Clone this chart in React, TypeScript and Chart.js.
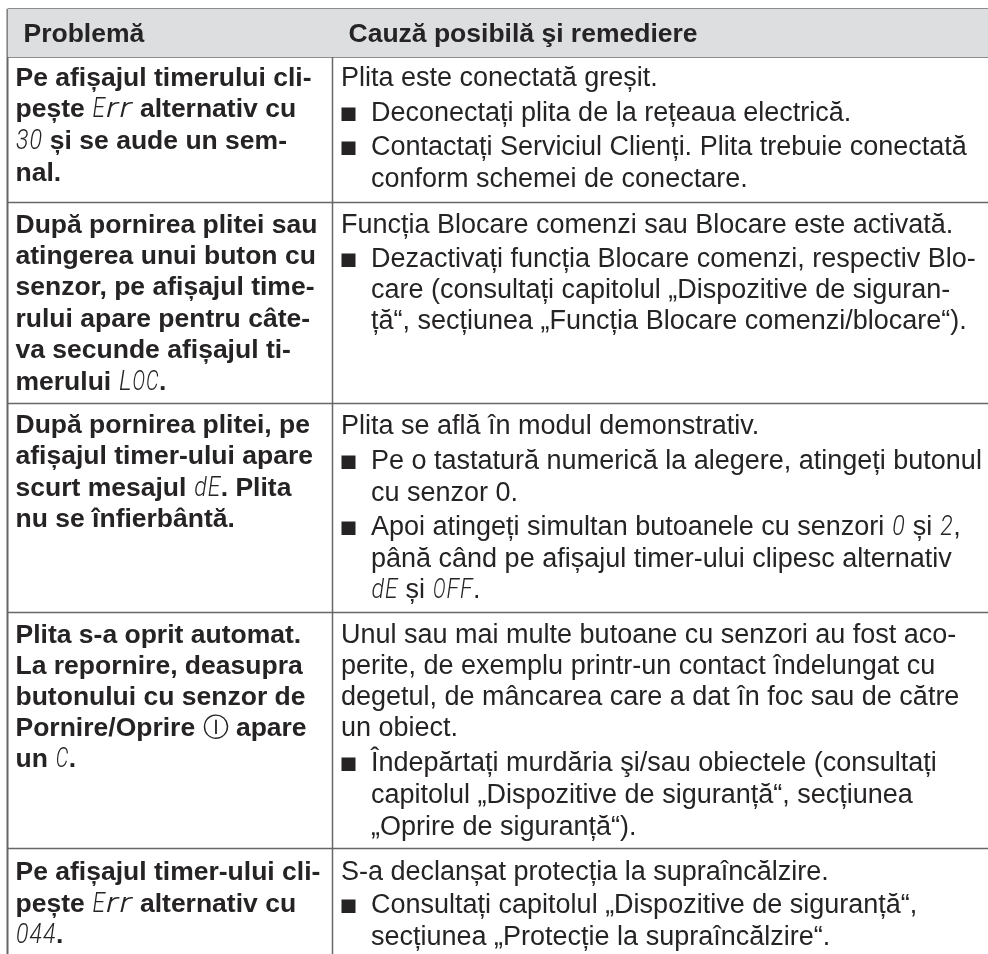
import React, { useEffect, useRef } from "react";
import { Chart, registerables } from "chart.js";

Chart.register(...registerables);

const headers = ["Problemă", "Cauză posibilă şi remediere"];

// {..} marks text shown on the hob's segment display; "• " marks a bullet item.
const problems = [
  ["Pe afișajul timerului cli-", "pește {Err} alternativ cu", "{30} și se aude un sem-", "nal."],
  ["După pornirea plitei sau", "atingerea unui buton cu", "senzor, pe afișajul time-", "rului apare pentru câte-", "va secunde afișajul ti-", "merului {LOC}."],
  ["După pornirea plitei, pe", "afișajul timer-ului apare", "scurt mesajul {dE}. Plita", "nu se înfierbântă."],
  ["Plita s-a oprit automat.", "La repornire, deasupra", "butonului cu senzor de", "Pornire/Oprire Ⓘ apare", "un {C}."],
  ["Pe afișajul timer-ului cli-", "pește {Err} alternativ cu", "{044}."],
];

const remedies = [
  ["Plita este conectată greșit.", "• Deconectați plita de la rețeaua electrică.", "• Contactați Serviciul Clienți. Plita trebuie conectată", "conform schemei de conectare."],
  ["Funcția Blocare comenzi sau Blocare este activată.", "• Dezactivați funcția Blocare comenzi, respectiv Blo-", "care (consultați capitolul „Dispozitive de siguran-", "ță“, secțiunea „Funcția Blocare comenzi/blocare“)."],
  ["Plita se află în modul demonstrativ.", "• Pe o tastatură numerică la alegere, atingeți butonul", "cu senzor 0.", "• Apoi atingeți simultan butoanele cu senzori {0} și {2},", "până când pe afișajul timer-ului clipesc alternativ", "{dE} și {OFF}."],
  ["Unul sau mai multe butoane cu senzori au fost aco-", "perite, de exemplu printr-un contact îndelungat cu", "degetul, de mâncarea care a dat în foc sau de către", "un obiect.", "• Îndepărtați murdăria şi/sau obiectele (consultați", "capitolul „Dispozitive de siguranță“, secțiunea", "„Oprire de siguranță“)."],
  ["S-a declanșat protecția la supraîncălzire.", "• Consultați capitolul „Dispozitive de siguranță“,", "secțiunea „Protecție la supraîncălzire“."],
];

const W = 988;
const H = 954;
const LEFT = 7.5;
const MID = 332.5;
const TOP = 9;
const HEAD_BOTTOM = 57;
const ROW_BOTTOMS = [202.5, 403.5, 612.5, 848.5];

const LEFT_BASE = [
  [86, 117, 149, 181],
  [233, 264, 295, 327, 358, 390],
  [433, 464, 496, 527],
  [643, 674, 705, 736, 767],
  [880, 912, 943],
];
const RIGHT_BASE = [
  [86, 121, 155, 187],
  [233, 267, 298, 329],
  [434, 469, 501, 535, 567, 598],
  [643, 674, 705, 736, 771, 803, 835],
  [880, 913, 945],
];

const FONT = '"Liberation Sans", Arial, sans-serif';
const INK = "#262324";
const BOLD = 26.5;
const REG = 27;
const SEG_ADVANCE = 13.5;
const SEG_GLYPH = 12.5;

function drawRuns(ctx: CanvasRenderingContext2D, text: string, x: number, y: number, weight: string, size: number) {
  const parts = text.split(/(\{[^}]*\}|Ⓘ)/).filter(Boolean);
  let cx = x;
  for (const p of parts) {
    if (p.startsWith("{")) {
      ctx.font = `italic 300 27px Roboto, ${FONT}`;
      for (const ch of p.slice(1, -1)) {
        const w = ctx.measureText(ch).width;
        const k = Math.min(SEG_GLYPH / w, 1.7);
        ctx.save();
        ctx.translate(cx + (SEG_ADVANCE - w * k) / 2, y);
        ctx.scale(k, 1);
        ctx.fillText(ch, 0, 0);
        ctx.restore();
        cx += SEG_ADVANCE;
      }
    } else if (p === "Ⓘ") {
      ctx.font = `normal 26px "DejaVu Sans"`;
      ctx.fillText(p, cx, y);
      cx += ctx.measureText(p).width;
    } else {
      ctx.font = `${weight} ${size}px ${FONT}`;
      ctx.fillText(p, cx, y);
      cx += ctx.measureText(p).width;
    }
  }
}

const tablePlugin = {
  id: "tableText",
  afterDatasetsDraw(chart: any) {
    const { ctx, scales } = chart;
    const px = (v: number) => scales.x.getPixelForValue(v);
    const py = (v: number) => scales.y.getPixelForValue(v);
    ctx.save();
    ctx.fillStyle = INK;
    ctx.textBaseline = "alphabetic";
    ctx.textAlign = "left";
    drawRuns(ctx, headers[0], px(23.5), py(42), "bold", BOLD);
    drawRuns(ctx, headers[1], px(348.5), py(42), "bold", BOLD);
    problems.forEach((row, r) =>
      row.forEach((line, i) => drawRuns(ctx, line, px(15.5), py(LEFT_BASE[r][i]), "bold", BOLD))
    );
    remedies.forEach((row, r) => {
      let indented = false;
      row.forEach((line, i) => {
        const base = py(RIGHT_BASE[r][i]);
        if (line.startsWith("• ")) {
          indented = true;
          ctx.fillRect(px(341.5), base - 13.5, 14, 13.5);
          drawRuns(ctx, line.slice(2), px(371), base, "normal", REG);
        } else {
          drawRuns(ctx, line, px(indented ? 371 : 341), base, "normal", REG);
        }
      });
    });
    ctx.restore();
  },
};

export default function App() {
  const ref = useRef<HTMLCanvasElement>(null);
  useEffect(() => {
    const rule = (pts: number[][], width = 1.5) => ({
      data: pts.map(([x, y]) => ({ x, y })),
      borderColor: "#666766",
      borderWidth: width,
      pointRadius: 0,
      fill: false,
      clip: false as const,
    });
    const chart = new Chart(ref.current!, {
      type: "line",
      data: {
        datasets: [
          {
            data: [{ x: LEFT, y: TOP }, { x: W, y: TOP }],
            borderWidth: 0,
            pointRadius: 0,
            backgroundColor: "#dcdee0",
            fill: { value: HEAD_BOTTOM },
          },
          rule([[LEFT, TOP], [W, TOP]]),
          rule([[LEFT, HEAD_BOTTOM], [W, HEAD_BOTTOM]]),
          ...ROW_BOTTOMS.map((y) => rule([[LEFT, y], [W, y]])),
          rule([[LEFT, TOP], [LEFT, H]], 2),
          rule([[MID, TOP], [MID, H]]),
        ],
      },
      options: {
        animation: false,
        responsive: false,
        events: [],
        layout: { padding: 0 },
        plugins: { legend: { display: false }, tooltip: { enabled: false }, title: { display: false } },
        scales: {
          x: { type: "linear", min: 0, max: W, display: false },
          y: { type: "linear", min: 0, max: H, reverse: true, display: false },
        },
      },
      plugins: [tablePlugin],
    });
    return () => chart.destroy();
  }, []);
  return (
    <canvas
      ref={ref}
      width={W}
      height={H}
      style={{ position: "fixed", left: 0, top: 0, width: W, height: H, display: "block", background: "#fff" }}
    />
  );
}
